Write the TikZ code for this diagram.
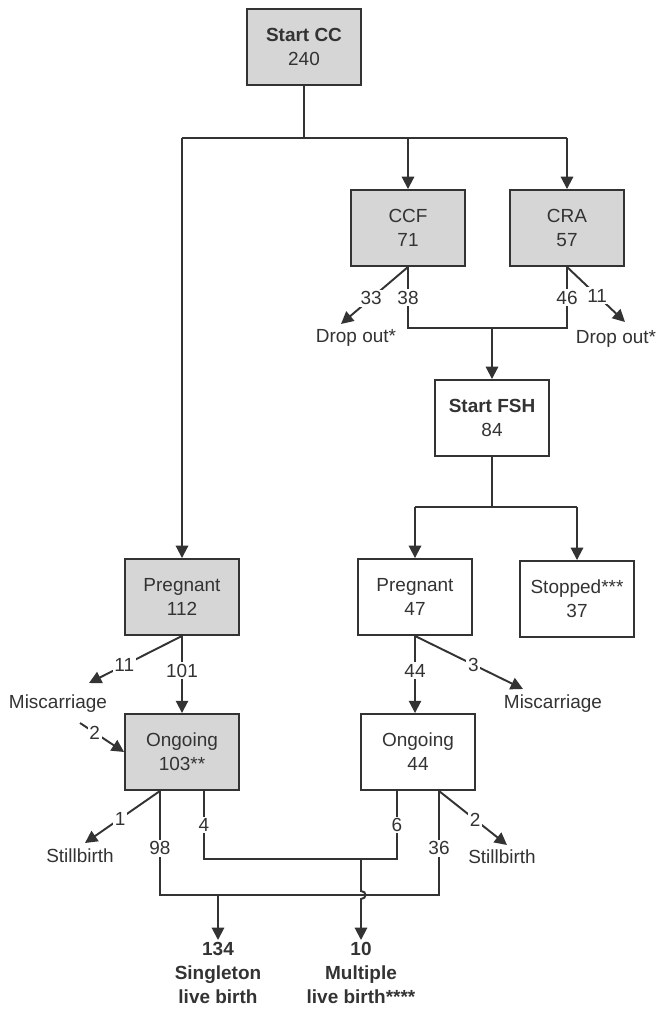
\documentclass[tikz,border=0pt]{standalone}
\usepackage{fontspec}
\setmainfont{Liberation Sans}
\usetikzlibrary{calc,positioning,arrows.meta}
\definecolor{boxgray}{HTML}{D6D6D6}
\definecolor{linegray}{HTML}{333333}
\newcommand{\chartfont}{\fontsize{10.8}{13.6}\selectfont}
\tikzset{
  stage/.style={draw=linegray, line width=1.1pt, minimum width=2.28cm, minimum height=1.52cm, align=center, inner sep=1pt},
  shaded/.style={stage, fill=boxgray},
  outcome/.style={align=center, inner sep=1pt},
  endpoint/.style={outcome, anchor=north, font=\chartfont\bfseries},
  num/.style={fill=white, inner sep=1pt},
  link/.style={draw=linegray, line width=1.1pt},
  arr/.style={link, -{Triangle[length=7pt,width=7pt]}}
}

\begin{document}
\begin{tikzpicture}[x=0.02cm, y=-0.02cm, font=\chartfont, text=linegray]
\useasboundingbox (0,0) rectangle (661,1014);
\node[shaded] (startcc) at (304,47) {\textbf{Start CC}\\240};
\node[shaded] (ccf) at (408,228) {CCF\\71};
\node[shaded] (cra) at (567,228) {CRA\\57};
\node[stage] (startfsh) at (492,418) {\textbf{Start FSH}\\84};
\node[shaded] (preg1) at (182,597) {Pregnant\\112};
\node[stage] (preg2) at (415,597) {Pregnant\\47};
\node[stage] (stopped) at (577,599) {Stopped***\\37};
\node[shaded] (ongo1) at (182,752) {Ongoing\\103**};
\node[stage] (ongo2) at (418,752) {Ongoing\\44};
\node[outcome] (drop1) at (356,338) {Drop out*};
\node[outcome] (drop2) at (616,339) {Drop out*};
\node[outcome] (misc1) at (58,704) {Miscarriage};
\node[outcome] (misc2) at (553,704) {Miscarriage};
\node[outcome] (still1) at (80,856) {Stillbirth};
\node[outcome] (still2) at (502,857) {Stillbirth};
\node[endpoint] (single) at (218,940) {134\\Singleton\\live birth};
\node[endpoint] (multi) at (361,940) {10\\Multiple\\live birth****};

\coordinate (j0) at (304,138);
\coordinate (j1) at (492,328);
\coordinate (j2) at (492,507);
\coordinate (j3) at (0,859);
\coordinate (j4) at (0,895);
\coordinate (hop) at (361,895);
\coordinate (d1) at (341,324);
\coordinate (d2) at (625,322);
\coordinate (m1) at (89,683);
\coordinate (m1b) at (80,723);
\coordinate (m2) at (523,689);
\coordinate (s1) at (85,843);
\coordinate (s2) at (507,845);
\coordinate (o1a) at ($(ongo1.south)+(-22,0)$);
\coordinate (o1b) at ($(ongo1.south)+(22,0)$);
\coordinate (o2a) at ($(ongo2.south)+(-21,0)$);
\coordinate (o2b) at ($(ongo2.south)+(21,0)$);

\draw[link] (startcc) -- (j0);
\draw[link] (preg1.north|-j0) -- (cra.north|-j0);
\draw[arr] (preg1.north|-j0) -- (preg1.north);
\draw[arr] (ccf.north|-j0) -- (ccf.north);
\draw[arr] (cra.north|-j0) -- (cra.north);
\draw[arr] (ccf.south) -- node[num,pos=0.55]{33} (d1);
\draw[arr] (cra.south) -- node[num,pos=0.52]{11} (d2);
\draw[link] (ccf.south) -- node[num]{38} (ccf.south|-j1) -- (cra.south|-j1) -- node[num]{46} (cra.south);
\draw[arr] (j1) -- (startfsh.north);
\draw[link] (startfsh.south) -- (j2);
\draw[link] (preg2.north|-j2) -- (stopped.north|-j2);
\draw[arr] (preg2.north|-j2) -- (preg2.north);
\draw[arr] (stopped.north|-j2) -- (stopped.north);
\draw[arr] (preg1.south) -- node[num,pos=0.62]{11} (m1);
\draw[arr] (preg1.south) -- node[num,pos=0.45]{101} (ongo1.north);
\draw[arr] (m1b) -- node[num,pos=0.33]{2} (ongo1.west);
\draw[arr] (preg2.south) -- node[num,pos=0.54]{3} (m2);
\draw[arr] (preg2.south) -- node[num,pos=0.45]{44} (preg2.south|-ongo2.north);
\draw[arr] (o1a) -- node[num,pos=0.53]{1} (s1);
\draw[arr] (o2b) -- node[num,pos=0.53]{2} (s2);
\draw[link] (o1a) -- node[num,pos=0.55]{98} (o1a|-j4) -- (o2b|-j4) -- node[num,pos=0.45]{36} (o2b);
\draw[link] (o1b) -- node[num]{4} (o1b|-j3) -- (o2a|-j3) -- node[num]{6} (o2a);
\draw[arr] (hop|-j3) -- ($(hop)+(0,-4)$) .. controls ($(hop)+(6,-4)$) and ($(hop)+(6,4)$) .. ($(hop)+(0,4)$) -- (multi.north);
\draw[arr] (single.north|-j4) -- (single.north);
\end{tikzpicture}
\end{document}
